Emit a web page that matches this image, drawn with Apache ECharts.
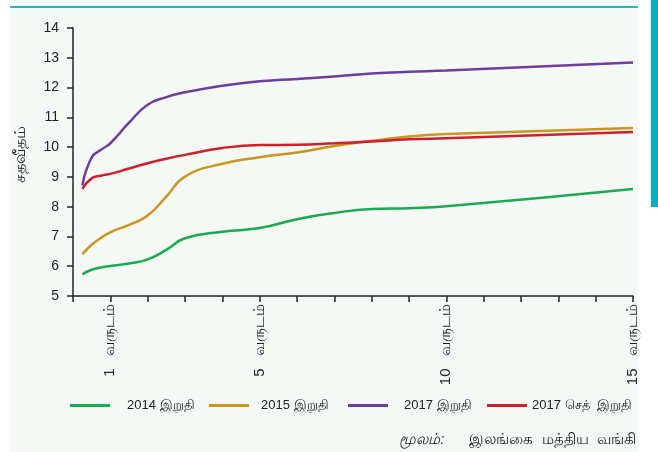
<!DOCTYPE html>
<html>
<head>
<meta charset="utf-8">
<script src="https://cdn.jsdelivr.net/npm/echarts@6/dist/echarts.min.js"></script>
<style>
  html, body { margin: 0; padding: 0; background: #ffffff; }
  #chart { width: 658px; height: 452px; }
</style>
</head>
<body>
<div id="chart"></div>
<script>
// maturities in years
const years = [0.25, 0.5, 0.75, 1, 1.5, 2, 2.5, 3, 4, 5, 6, 7, 8, 9, 10, 15]

const end2014 = [5.73, 5.88, 5.96, 6.01, 6.09, 6.23, 6.55, 6.94, 7.16, 7.28, 7.58, 7.79, 7.92, 7.95, 8.01, 8.59]
const end2015 = [6.40, 6.72, 6.95, 7.14, 7.39, 7.70, 8.34, 9.01, 9.44, 9.66, 9.82, 10.04, 10.21, 10.36, 10.44, 10.64]
const end2017 = [8.71, 9.65, 9.91, 10.13, 10.82, 11.42, 11.68, 11.84, 12.06, 12.21, 12.29, 12.37, 12.47, 12.53, 12.57, 12.84]
const endSep2017 = [8.60, 8.95, 9.04, 9.10, 9.28, 9.46, 9.61, 9.74, 9.97, 10.07, 10.08, 10.13, 10.19, 10.26, 10.30, 10.51]

const seriesNames = ['2014 இறுதி', '2015 இறுதி', '2017 இறுதி', '2017 செத்  இறுதி']
const seriesColors = ['#1aab52', '#c9961f', '#6b3f9b', '#d01f2c']
const labelYears = [1, 5, 10, 15]

const fontNarrow = '"Liberation Sans Narrow", "Liberation Sans", Arial, sans-serif'

function pairs(vals) {
    return years.map((x, i) => [x, vals[i]])
}

// one legend per entry so the spacing follows the original
const legendLeft = [65, 204, 343, 482]
const legendTextPad = [12, 7, 11, 0]

let chart = echarts.init(document.getElementById('chart'))
chart.setOption({
    animation: false,
    backgroundColor: '#ffffff',
    graphic: [
        // panel background
        { type: 'rect', left: 10, top: 8, shape: { width: 628, height: 444 }, style: { fill: '#f5f9f6' }, z: -10 },
        // top teal rule
        { type: 'rect', left: 10, top: 6, shape: { width: 628, height: 2 }, style: { fill: '#22b4c6' } },
        // right teal tab
        { type: 'rect', left: 651, top: 0, shape: { width: 7, height: 207 }, style: { fill: '#00aec6' } },
        {
            type: 'text', x: 21, y: 154,
            rotation: Math.PI / 2,
            style: {
                text: 'சதவீதம்', font: '16px ' + fontNarrow, fill: '#222',
                align: 'center', verticalAlign: 'middle'
            }
        },
        {
            type: 'text', right: 22, top: 432,
            style: {
                rich: {
                    a: { fontStyle: 'italic', fontSize: 15, fontFamily: fontNarrow },
                    b: { fontSize: 15, fontFamily: fontNarrow }
                },
                text: '{a|மூலம்:}{b|      இலங்கை  மத்திய  வங்கி}',
                fill: '#222'
            }
        }
    ],
    legend: seriesNames.map((name, i) => ({
        data: [name],
        left: legendLeft[i],
        top: 394,
        itemWidth: 40,
        itemHeight: 3,
        icon: 'rect',
        textStyle: { fontFamily: fontNarrow, fontSize: 13, color: '#222', padding: [0, 0, 0, legendTextPad[i]] }
    })),
    grid: {
        left: 73,
        right: 25,
        top: 28,
        bottom: 156
    },
    xAxis: {
        type: 'value',
        min: 0,
        max: 15,
        interval: 1,
        splitLine: { show: false },
        axisLine: { lineStyle: { color: '#222', width: 1.5 } },
        axisTick: { show: true, length: 6, lineStyle: { color: '#222', width: 1.5 } },
        axisLabel: {
            rotate: 90,
            margin: 8,
            fontFamily: fontNarrow,
            fontSize: 15,
            color: '#222',
            formatter: (v) => labelYears.includes(v) ? v + '   வருடம்' : ''
        }
    },
    yAxis: {
        type: 'value',
        min: 5,
        max: 14,
        interval: 1,
        splitLine: { show: false },
        axisLine: { show: true, lineStyle: { color: '#222', width: 1.5 } },
        axisTick: { show: true, length: 6, lineStyle: { color: '#222', width: 1.5 } },
        axisLabel: { fontFamily: fontNarrow, fontSize: 14, color: '#222', margin: 14 }
    },
    series: [end2014, end2015, end2017, endSep2017].map((vals, i) => ({
        name: seriesNames[i],
        type: 'line',
        data: pairs(vals),
        smooth: 0.5,
        showSymbol: false,
        color: seriesColors[i],
        lineStyle: { width: 2.5, color: seriesColors[i] }
    }))
})
</script>
</body>
</html>
